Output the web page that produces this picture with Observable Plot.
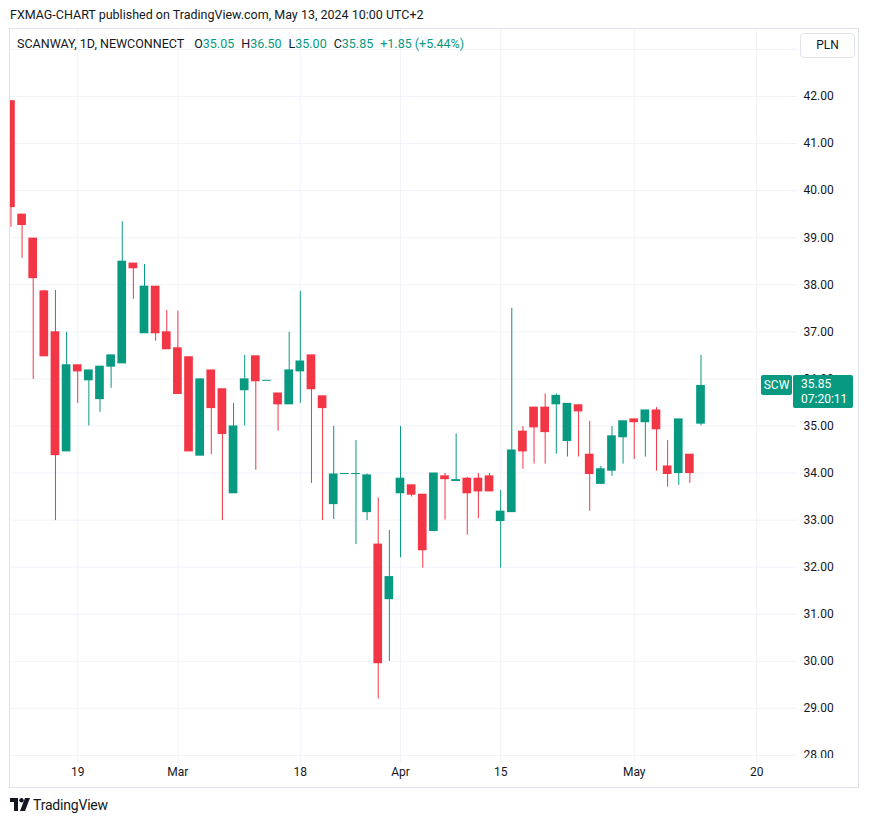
<!DOCTYPE html>
<html>
<head>
<meta charset="utf-8">
<script src="https://cdn.jsdelivr.net/npm/d3@7"></script>
<script src="https://cdn.jsdelivr.net/npm/@observablehq/plot@0.6"></script>
<style>
  html, body { margin: 0; padding: 0; background: #fff; }
  body { width: 869px; height: 824px; position: relative; overflow: hidden; font-family: Roboto, "Noto Sans", sans-serif; color: #131722; }
  #chart { position: absolute; left: 0; top: 0; }
  .abs { position: absolute; white-space: nowrap; }
  .g { color: #089981; }
  #legend span.item { margin-right: 7px; }
</style>
</head>
<body>
<div class="abs" style="left:10px;top:7px;font-size:12.5px;">FXMAG-CHART published on TradingView.com, May 13, 2024 10:00 UTC+2</div>
<div class="abs" style="left:9px;top:28px;width:848px;height:758px;border:1px solid #e0e3eb;"></div>
<div id="chart"></div>
<div class="abs" style="left:797px;top:758px;width:61px;height:14px;background:#fff;"></div>
<div id="legend" class="abs" style="left:17px;top:36px;font-size:12.5px;"></div>
<div class="abs" style="left:800px;top:33px;width:53px;height:23px;border:1px solid #e0e3eb;border-radius:4px;background:#fff;font-size:12px;line-height:23px;text-align:center;">PLN</div>
<div id="lastlabels"></div>
<div class="abs" style="left:10px;top:797px;display:flex;align-items:center;">
  <svg width="20" height="14" viewBox="0 0 20 14">
    <path d="M0 0h8v13H4V4H0z" fill="#131722"/>
    <circle cx="11.5" cy="2.2" r="2.2" fill="#131722"/>
    <path d="M15 0h5l-5 13h-5z" fill="#131722"/>
  </svg>
  <span style="font-size:14px;margin-left:3px;letter-spacing:-0.2px;">TradingView</span>
</div>
<script>
// ---- data ----
const dates = ["2024-02-09","2024-02-12","2024-02-13","2024-02-14","2024-02-15","2024-02-16",
  "2024-02-19","2024-02-20","2024-02-21","2024-02-22","2024-02-23",
  "2024-02-26","2024-02-27","2024-02-28","2024-02-29","2024-03-01",
  "2024-03-04","2024-03-05","2024-03-06","2024-03-07","2024-03-08",
  "2024-03-11","2024-03-12","2024-03-13","2024-03-14","2024-03-15",
  "2024-03-18","2024-03-19","2024-03-20","2024-03-21","2024-03-22",
  "2024-03-25","2024-03-26","2024-03-27","2024-03-28",
  "2024-04-02","2024-04-03","2024-04-04","2024-04-05",
  "2024-04-08","2024-04-09","2024-04-10","2024-04-11","2024-04-12",
  "2024-04-15","2024-04-16","2024-04-17","2024-04-18","2024-04-19",
  "2024-04-22","2024-04-23","2024-04-24","2024-04-25","2024-04-26",
  "2024-04-29","2024-04-30","2024-05-02",
  "2024-05-06","2024-05-07","2024-05-08","2024-05-09","2024-05-10",
  "2024-05-13"];
const open = [41.90,39.49,38.98,37.86,36.99,34.46,
  36.29,35.97,35.57,36.26,36.33,
  38.45,36.97,37.96,36.99,36.65,
  36.46,34.37,36.18,35.78,33.57,
  35.76,36.48,35.96,35.69,35.46,
  36.16,36.50,35.63,33.34,33.98,
  33.98,33.17,32.48,31.32,
  33.57,33.74,33.54,32.77,
  33.93,33.83,33.88,33.88,33.93,
  32.98,33.17,34.88,35.39,35.39,
  35.46,34.68,35.44,34.39,33.77,
  34.05,34.76,35.14,
  35.08,35.33,34.14,34.00,34.39,
  35.05];
const high = [41.90,39.49,38.98,37.88,37.88,36.99,
  36.29,36.18,36.26,36.50,39.34,
  38.45,38.43,37.96,37.45,37.44,
  36.46,35.99,36.18,35.78,35.48,
  36.50,36.48,35.96,35.69,36.99,
  37.86,36.50,35.63,34.99,33.98,
  34.69,33.98,33.47,32.78,
  34.99,33.74,33.54,33.99,
  33.99,34.83,33.91,33.99,33.99,
  33.63,37.50,34.99,35.39,35.68,
  35.68,35.47,35.44,35.10,34.14,
  34.99,35.10,35.14,
  35.33,35.39,34.69,35.14,34.39,
  36.50];
const low = [39.22,38.56,35.99,36.48,32.99,34.46,
  35.48,35.00,35.29,35.80,36.33,
  37.69,36.97,36.80,36.63,35.68,
  34.46,34.37,34.39,32.99,33.57,
  35.00,34.06,35.96,34.89,35.46,
  35.48,33.78,32.99,33.01,33.98,
  32.48,32.99,29.20,30.00,
  32.20,33.49,31.98,32.75,
  33.00,33.83,32.68,33.03,33.61,
  31.98,33.17,34.08,34.19,34.19,
  34.40,34.34,34.34,33.19,33.77,
  33.93,34.19,34.29,
  34.34,34.04,33.70,33.74,33.78,
  35.00];
const close = [39.65,39.27,38.14,36.48,34.38,36.29,
  36.16,36.18,36.26,36.50,38.49,
  38.35,37.96,36.97,36.63,35.68,
  34.46,35.99,35.38,34.83,34.99,
  35.99,35.95,35.96,35.46,36.18,
  36.37,35.78,35.38,33.97,33.98,
  33.98,33.95,29.96,31.79,
  33.88,33.54,32.36,33.99,
  33.87,33.85,33.57,33.61,33.61,
  33.18,34.48,34.46,34.97,34.87,
  35.64,35.47,35.31,33.98,34.08,
  34.78,35.10,35.08,
  35.33,34.93,33.98,35.14,34.00,
  35.85];
const futureSessions = ["2024-05-14","2024-05-15","2024-05-16","2024-05-17","2024-05-20","2024-05-21","2024-05-22","2024-05-23"];
const tickDates = ["2024-02-19","2024-03-01","2024-03-18","2024-04-02","2024-04-15","2024-05-02","2024-05-20"];
const tickLabels = ["19","Mar","18","Apr","15","May","20"];
const priceTicks = [28,29,30,31,32,33,34,35,36,37,38,39,40,41,42];
const gridPrices = [28,29,30,31,32,33,34,35,36,37,38,39,40,41,42,43];
const symbol = "SCW";
const countdown = "07:20:11";

// ---- build ----
const GREEN = "#089981", RED = "#f23645";
const sessions = dates.concat(futureSessions);
const candles = dates.map((d, i) => ({i, date: d, open: open[i], high: high[i], low: low[i], close: close[i]}));
const tickIdx = tickDates.map(d => sessions.indexOf(d));
const colorOf = d => d.close >= d.open ? GREEN : RED;

const chart = Plot.plot({
  width: 869,
  height: 790,
  marginLeft: 10,
  marginRight: 72,
  marginTop: 29,
  marginBottom: 28,
  style: {fontFamily: "Roboto, 'Noto Sans', sans-serif", fontSize: "12px", color: "#131722", background: "transparent"},
  x: {type: "linear", domain: [-0.04, 70.67]},
  y: {domain: [27.851, 43.423]},
  marks: [
    Plot.gridX(tickIdx, {stroke: "#f0f3fa", strokeOpacity: 1}),
    Plot.gridY(gridPrices, {stroke: "#f0f3fa", strokeOpacity: 1}),
    Plot.ruleX(candles, {x: "i", y1: "low", y2: "high", stroke: colorOf, strokeWidth: 1, clip: true}),
    Plot.rect(candles, {x1: d => d.i - 0.39, x2: d => d.i + 0.39, y1: "open", y2: "close", fill: colorOf, insetTop: -0.5, insetBottom: -0.5, clip: true}),
    Plot.axisY(priceTicks, {anchor: "right", tickSize: 0, tickPadding: 6, tickFormat: d => d.toFixed(2), label: null, fill: "#131722"}),
    Plot.axisX(tickIdx, {anchor: "bottom", tickSize: 0, tickPadding: 5, tickFormat: d => tickLabels[tickIdx.indexOf(d)], label: null, fill: "#131722"})
  ]
});
document.getElementById("chart").appendChild(chart);

// legend row
const last = candles[candles.length - 1];
const prev = candles[candles.length - 2];
const chg = last.close - prev.close;
const pct = chg / prev.close * 100;
const legend = document.getElementById("legend");
const parts = [
  ["SCANWAY, 1D, NEWCONNECT", null, 10],
  ["O", last.open.toFixed(2), 7],
  ["H", last.high.toFixed(2), 7],
  ["L", last.low.toFixed(2), 7],
  ["C", last.close.toFixed(2), 7],
  ["", (chg >= 0 ? "+" : "") + chg.toFixed(2) + " (" + (pct >= 0 ? "+" : "") + pct.toFixed(2) + "%)", 0]
];
for (const [lab, val, gap] of parts) {
  const s = document.createElement("span");
  s.style.marginRight = gap + "px";
  s.innerHTML = lab + (val ? '<span class="g">' + val + '</span>' : "");
  legend.appendChild(s);
}

// last price labels, placed through the y scale
const yPx = chart.scale("y").apply(last.close);
const ll = document.getElementById("lastlabels");
const c = colorOf(last);
ll.innerHTML =
  `<div class="abs" style="left:761px;top:${yPx - 10}px;width:31px;height:20px;background:${c};color:#fff;font-size:12px;line-height:20px;text-align:center;border-radius:2px;">${symbol}</div>` +
  `<div class="abs" style="left:793px;top:${yPx - 10}px;width:60px;height:33px;background:${c};color:#fff;font-size:12px;line-height:15px;border-radius:2px;padding-top:2px;box-sizing:border-box;"><div style="padding-left:8px;">${last.close.toFixed(2)}</div><div style="padding-left:8px;">${countdown}</div></div>`;
</script>
</body>
</html>
